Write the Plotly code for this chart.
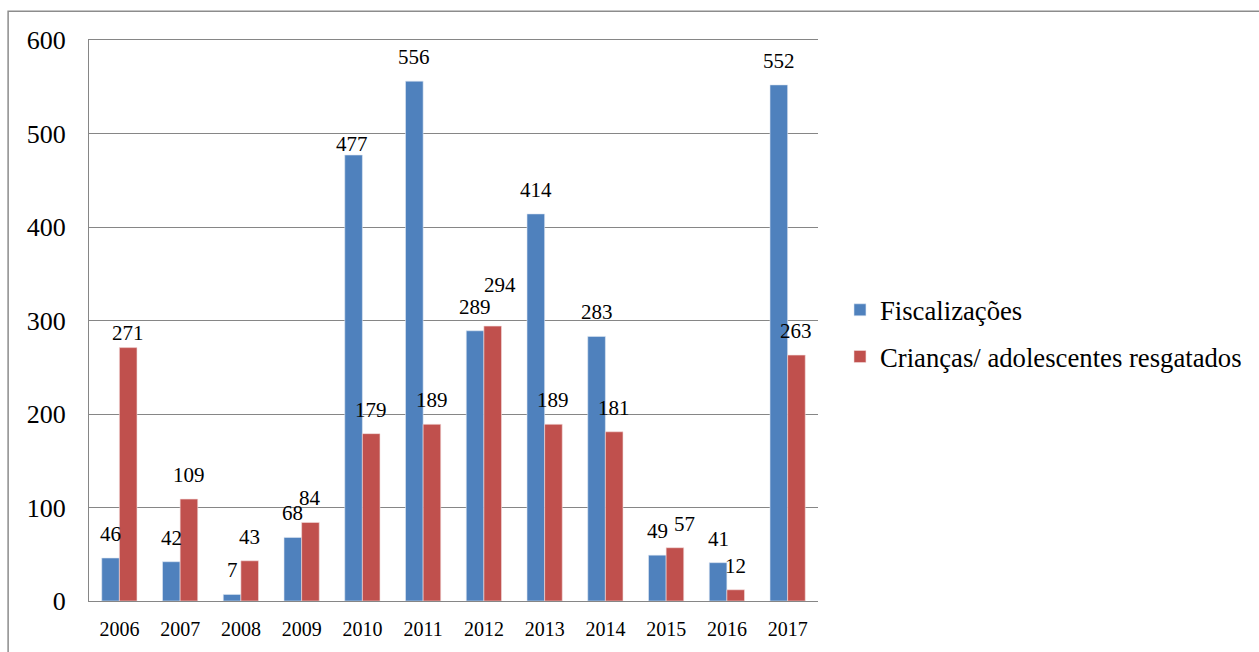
import plotly.graph_objects as go

# Annual data
anos = ["2006", "2007", "2008", "2009", "2010", "2011",
        "2012", "2013", "2014", "2015", "2016", "2017"]
fiscalizacoes = [46, 42, 7, 68, 477, 556, 289, 414, 283, 49, 41, 552]
resgatados = [271, 109, 43, 84, 179, 189, 294, 189, 181, 57, 12, 263]

nome_fisc = "Fiscalizações"
nome_resg = "Crianças/ adolescentes resgatados"

AZUL = "#4F81BD"
VERMELHO = "#C0504D"
CINZA = "#868686"
FONTE = "Liberation Serif"

W, H = 1259, 652
M_L, M_R, M_T, M_B = 89, 440, 40, 48
plot_w = W - M_L - M_R
plot_h = H - M_T - M_B
BARGAP = 0.42

# manual nudges (px) for a few value labels: (series, year) -> (dx, dy)
ajuste_rotulos = {
    ("f", "2010"): (-2, -13),
    ("r", "2006"): (0, -9),
    ("r", "2012"): (7, 17),
    ("r", "2015"): (10, 0),
}

fig = go.Figure()
fig.add_trace(go.Bar(x=anos, y=fiscalizacoes, name=nome_fisc,
                     marker=dict(color=AZUL, line=dict(color="#dfe8f3", width=0.6)),
                     legendgroup="a"))
fig.add_trace(go.Bar(x=anos, y=resgatados, name=nome_resg,
                     marker=dict(color=VERMELHO, line=dict(color="#f3dede", width=0.6)),
                     legendgroup="b"))

# value labels above each bar (x given as category index)
meia_barra = (1 - BARGAP) / 4
anots = []
for chave, serie, sinal in (("f", fiscalizacoes, -1), ("r", resgatados, 1)):
    for i, (ano, v) in enumerate(zip(anos, serie)):
        dx, dy = ajuste_rotulos.get((chave, ano), (0, 0))
        anots.append(dict(x=i + sinal * meia_barra, y=v, xref="x", yref="y",
                          text=str(v), showarrow=False, yanchor="bottom",
                          xshift=dx, yshift=10 + dy,
                          font=dict(family=FONTE, size=21, color="#000")))

fig.update_layout(
    width=W, height=H,
    margin=dict(l=M_L, r=M_R, t=M_T, b=M_B),
    paper_bgcolor="white", plot_bgcolor="white",
    barmode="group", bargap=BARGAP, bargroupgap=0,
    font=dict(family=FONTE, color="#000"),
    annotations=anots,
    legend=dict(x=(881 - 40 - M_L) / plot_w, xanchor="left",
                y=(H - M_B - 335) / plot_h, yanchor="middle",
                font=dict(family=FONTE, size=26.7, color="#000"),
                tracegroupgap=9, traceorder="grouped",
                bgcolor="rgba(0,0,0,0)"),
    shapes=[dict(type="rect", xref="paper", yref="paper",
                 x0=(8 - M_L) / plot_w, x1=(W + 20 - M_L) / plot_w,
                 y0=-0.3, y1=(H - M_B - 11) / plot_h,
                 line=dict(color="#8c8c8c", width=1.5), layer="below")],
)

fig.update_xaxes(type="category", range=[-0.5, len(anos) - 0.5],
                 showline=True, linecolor=CINZA, linewidth=1.2,
                 mirror=True, showgrid=False, ticks="", ticklabelstandoff=10,
                 tickfont=dict(family=FONTE, size=20, color="#000"))
fig.update_yaxes(range=[0, 600], dtick=100, showgrid=True, gridcolor=CINZA,
                 gridwidth=1, showline=True, linecolor=CINZA, linewidth=1.2,
                 zeroline=False, ticks="", ticklabelstandoff=17,
                 tickfont=dict(family=FONTE, size=26, color="#000"))

fig.write_html("out.html")
